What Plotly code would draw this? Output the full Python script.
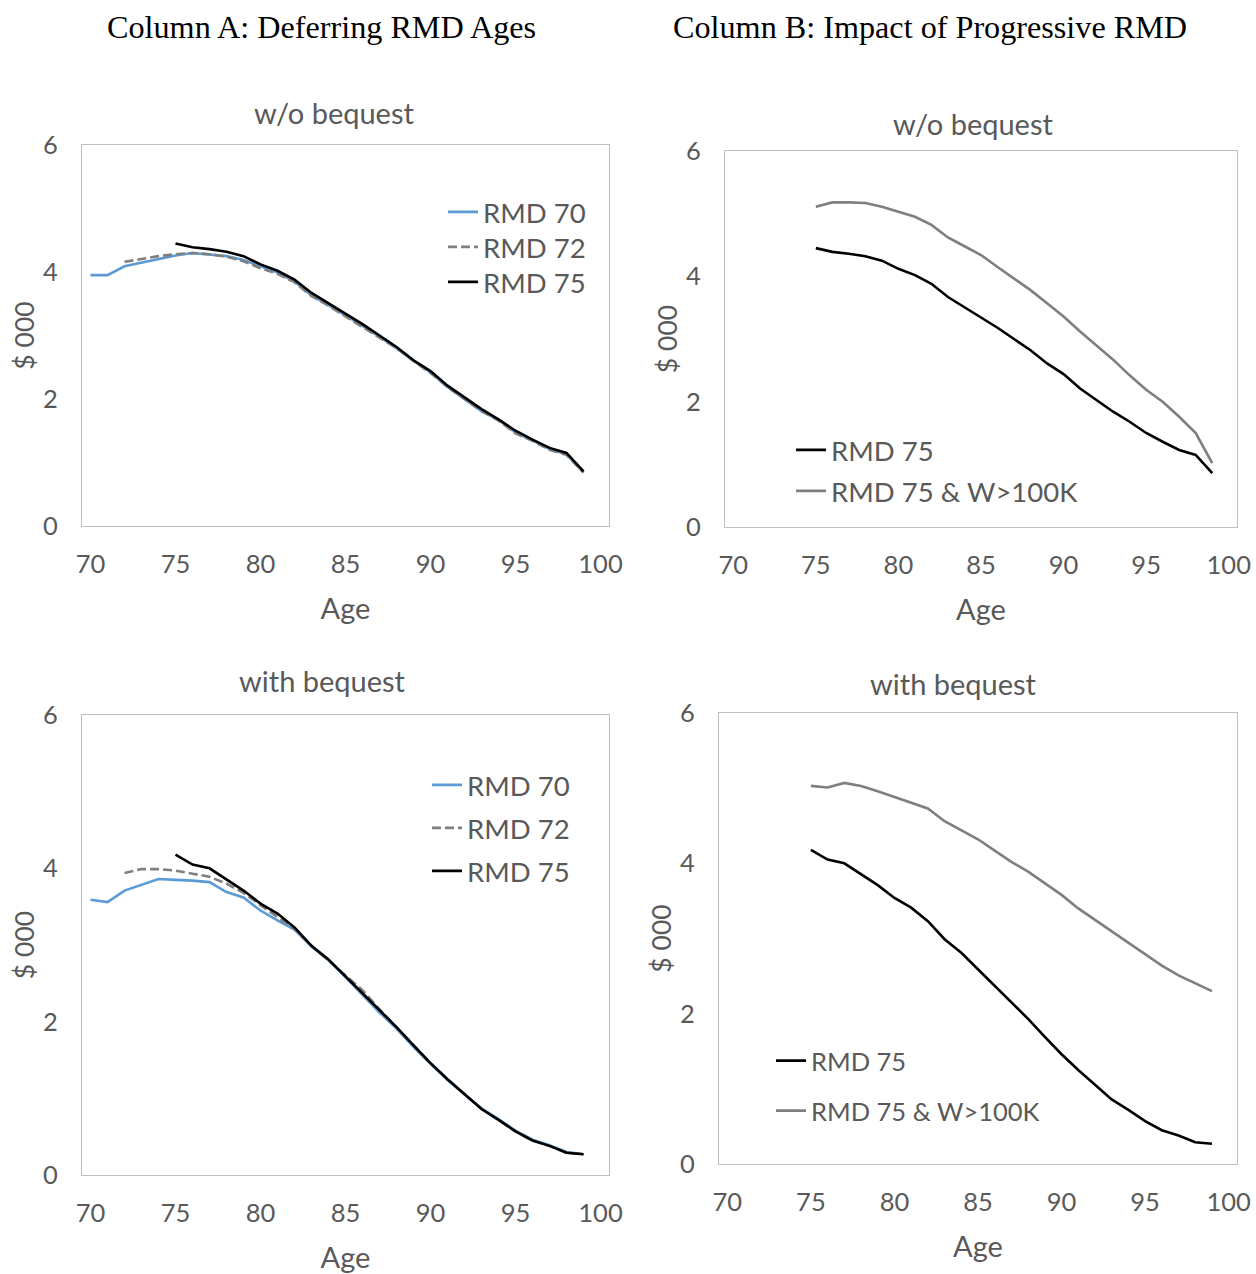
import plotly.graph_objects as go

# ---------------- data ----------------
ages_rmd70 = list(range(70, 100))
ages_rmd72 = list(range(72, 100))
ages_rmd75 = list(range(75, 100))

# Column A, w/o bequest
rmd70_nobeq = [3.95, 3.95, 4.09, 4.15, 4.20, 4.26, 4.30, 4.28, 4.25, 4.19, 4.09, 3.99, 3.85, 3.63, 3.48,
               3.32, 3.15, 2.98, 2.80, 2.60, 2.42, 2.19, 2.00, 1.81, 1.67, 1.47, 1.35, 1.21, 1.13, 0.85]
rmd72_nobeq = [4.16, 4.21, 4.25, 4.28, 4.30, 4.28, 4.24, 4.17, 4.06, 3.97, 3.84, 3.62, 3.47, 3.30,
               3.13, 2.97, 2.80, 2.60, 2.41, 2.19, 2.00, 1.81, 1.66, 1.46, 1.34, 1.20, 1.12, 0.84]
rmd75_nobeq = [4.45, 4.39, 4.36, 4.32, 4.25, 4.12, 4.02, 3.88, 3.67, 3.51, 3.35, 3.18, 3.00, 2.82,
               2.61, 2.44, 2.21, 2.03, 1.84, 1.68, 1.50, 1.36, 1.23, 1.15, 0.86]
# Column B, w/o bequest
rmd75_w100k_nobeq = [5.11, 5.18, 5.18, 5.17, 5.11, 5.03, 4.95, 4.82, 4.62, 4.48, 4.34, 4.15, 3.97, 3.78,
                     3.57, 3.36, 3.12, 2.90, 2.67, 2.42, 2.19, 2.00, 1.76, 1.50, 1.02]

# Column A, with bequest
rmd70_beq = [3.59, 3.56, 3.71, 3.79, 3.86, 3.85, 3.84, 3.82, 3.69, 3.62, 3.45, 3.32, 3.20, 2.98, 2.80,
             2.58, 2.35, 2.12, 1.91, 1.67, 1.45, 1.24, 1.05, 0.87, 0.73, 0.58, 0.46, 0.39, 0.30, 0.27]
rmd72_beq = [3.94, 3.99, 3.99, 3.97, 3.93, 3.89, 3.80, 3.68, 3.52, 3.36, 3.21, 2.99, 2.80, 2.61,
             2.41, 2.16, 1.93, 1.69, 1.46, 1.25, 1.05, 0.86, 0.72, 0.57, 0.45, 0.38, 0.29, 0.27]
rmd75_beq = [4.18, 4.05, 4.00, 3.85, 3.71, 3.54, 3.41, 3.23, 2.99, 2.81, 2.59, 2.38, 2.15, 1.93,
             1.69, 1.46, 1.25, 1.05, 0.86, 0.72, 0.57, 0.45, 0.38, 0.29, 0.27]
# Column B, with bequest
rmd75_w100k_beq = [5.03, 5.01, 5.07, 5.03, 4.96, 4.88, 4.81, 4.73, 4.56, 4.44, 4.32, 4.17, 4.02, 3.89,
                   3.74, 3.58, 3.40, 3.25, 3.09, 2.94, 2.79, 2.64, 2.51, 2.40, 2.30]

x_ticks = [70, 75, 80, 85, 90, 95, 100]
y_ticks = [0, 2, 4, 6]

column_titles = ["Column A: Deferring RMD Ages", "Column B: Impact of Progressive RMD"]
panel_titles = ["w/o bequest", "w/o bequest", "with bequest", "with bequest"]
x_title = "Age"
y_title = "$ 000"

# ---------------- style ----------------
W, H = 1256, 1274
BLUE = "#5B9BD5"
GRAY = "#7F7F7F"
BLACK = "#000000"
TXT = "#595959"
FRAME = "#BFBFBF"
SANS = "Lato, Carlito, Calibri, sans-serif"
SERIF = "Liberation Serif, Times New Roman, serif"
LW = 2.6


def px(x):
    return x / W


def py(y):
    return 1 - y / H


fig = go.Figure()

# panel geometry in pixels: (left, right, top, bottom)
panels = {
    1: (82, 609, 145, 526),
    2: (725, 1237, 151, 527),
    3: (82, 609, 715, 1175),
    4: (719, 1237, 713, 1164),
}

traces = [
    # panel, name, x, y, color, dash, legend key, legend text x, legend y, font size
    (1, "RMD 70", ages_rmd70, rmd70_nobeq, BLUE, "solid", "legend", 483, 212, 27.5),
    (1, "RMD 72", ages_rmd72, rmd72_nobeq, GRAY, "9px,4px", "legend2", 483, 247, 27.5),
    (1, "RMD 75", ages_rmd75, rmd75_nobeq, BLACK, "solid", "legend3", 483, 282, 27.5),
    (2, "RMD 75", ages_rmd75, rmd75_nobeq, BLACK, "solid", "legend4", 831, 450, 27.5),
    (2, "RMD 75 & W>100K", ages_rmd75, rmd75_w100k_nobeq, GRAY, "solid", "legend5", 831, 491, 27.5),
    (3, "RMD 70", ages_rmd70, rmd70_beq, BLUE, "solid", "legend6", 467, 785, 27.5),
    (3, "RMD 72", ages_rmd72, rmd72_beq, GRAY, "9px,4px", "legend7", 467, 828, 27.5),
    (3, "RMD 75", ages_rmd75, rmd75_beq, BLACK, "solid", "legend8", 467, 871, 27.5),
    (4, "RMD 75", ages_rmd75, rmd75_beq, BLACK, "solid", "legend9", 811, 1061, 25.5),
    (4, "RMD 75 & W>100K", ages_rmd75, rmd75_w100k_beq, GRAY, "solid", "legend10", 811, 1111, 25.5),
]

legend_layout = {}
for panel, name, xs, ys, color, dash, leg, lx, ly, fs in traces:
    suffix = "" if panel == 1 else str(panel)
    fig.add_trace(go.Scatter(
        x=xs, y=ys, mode="lines", name=name,
        line=dict(color=color, width=LW, dash=dash),
        xaxis="x" + suffix, yaxis="y" + suffix,
        legend=leg, showlegend=True, hoverinfo="x+y+name",
    ))
    legend_layout[leg] = dict(
        x=px(lx - 40), y=py(ly), xanchor="left", yanchor="middle",
        font=dict(family=SANS, size=fs, color=TXT),
        bgcolor="rgba(0,0,0,0)", borderwidth=0, itemwidth=30,
    )

axis_common = dict(showline=True, mirror=True, linecolor=FRAME, linewidth=1.3,
                   showgrid=False, zeroline=False, ticks="", automargin=False,
                   tickfont=dict(family=SANS, size=25.5, color=TXT))

layout_axes = {}
for i, (l, r, t, b) in panels.items():
    suffix = "" if i == 1 else str(i)
    layout_axes["xaxis" + suffix] = dict(
        axis_common, domain=[px(l), px(r)], anchor="y" + suffix,
        range=[69.5, 100.5], tickvals=x_ticks, ticklabelstandoff=15,
        title=dict(text=x_title, font=dict(family=SANS, size=29, color=TXT), standoff=21),
    )
    layout_axes["yaxis" + suffix] = dict(
        axis_common, domain=[py(b), py(t)], anchor="x" + suffix,
        range=[0, 6], tickvals=y_ticks, ticklabelstandoff=18,
        title=dict(text=y_title, font=dict(family=SANS, size=26.5, color=TXT), standoff=0),
    )

annotations = [
    dict(text=column_titles[0], x=px(321), y=py(27), xref="paper", yref="paper",
         xanchor="center", yanchor="middle",
         showarrow=False, font=dict(family=SERIF, size=32.2, color="#000000")),
    dict(text=column_titles[1], x=px(930), y=py(27), xref="paper", yref="paper",
         xanchor="center", yanchor="middle",
         showarrow=False, font=dict(family=SERIF, size=32.2, color="#000000")),
]
title_pos = [(334, 112), (973, 123), (322, 680), (953, 683)]
for txt, (tx, ty) in zip(panel_titles, title_pos):
    annotations.append(dict(text=txt, x=px(tx), y=py(ty), xref="paper", yref="paper",
                            xanchor="center", yanchor="middle",
                            showarrow=False, font=dict(family=SANS, size=29, color=TXT)))

fig.update_layout(
    width=W, height=H,
    margin=dict(l=0, r=0, t=0, b=0, autoexpand=False),
    paper_bgcolor="white", plot_bgcolor="white",
    annotations=annotations,
    **layout_axes,
    **legend_layout,
)

fig.write_html("out.html", config={"displayModeBar": False},
               post_script="document.body.style.margin='0px';")
